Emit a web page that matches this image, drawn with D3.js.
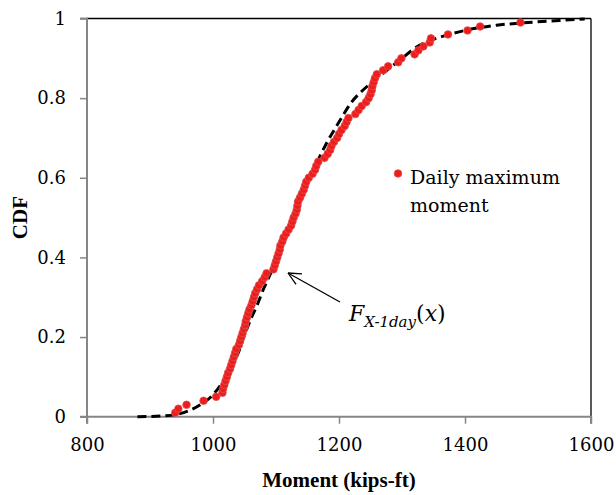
<!DOCTYPE html>
<html><head><meta charset="utf-8">
<script src="https://cdn.jsdelivr.net/npm/d3@7"></script>
</head><body style="margin:0">
<svg id="chart" width="616" height="495"></svg>
<script>
const xTicks = [800, 1000, 1200, 1400, 1600];
const yTicks = [0, 0.2, 0.4, 0.6, 0.8, 1];
const yTickLabels = ["0", "0.2", "0.4", "0.6", "0.8", "1"];
const xTitle = "Moment (kips-ft)";
const yTitle = "CDF";
const legendLines = ["Daily maximum", "moment"];

// Empirical daily maximum moments (kips-ft) and their CDF values
const dailyMoment = [940,945,958,985,1005,1015,1016,1018,1020,1022,1024,1027,1029,1031,1033,1035,1037,1041,1043,1045,
  1047,1049,1051,1052,1054,1056,1058,1061,1063,1065,1067,1070,1073,1078,1082,1085,1096,1098,1100,1102,
  1104,1106,1107,1110,1112,1116,1120,1124,1126,1128,1131,1133,1134,1135,1138,1141,1144,1146,1148,1152,
  1158,1162,1164,1167,1177,1182,1186,1188,1192,1197,1200,1204,1209,1212,1215,1226,1231,1236,1243,1247,
  1250,1252,1253,1255,1257,1260,1270,1278,1294,1299,1320,1326,1334,1344,1346,1373,1404,1424,1488];
const dailyCdf = [0.01,0.02,0.03,0.04,0.05,0.06,0.07,0.08,0.09,0.10,0.11,0.12,0.13,0.14,0.15,0.16,0.17,0.18,0.19,0.20,
  0.21,0.22,0.23,0.24,0.25,0.26,0.27,0.28,0.29,0.30,0.31,0.32,0.33,0.34,0.35,0.36,0.37,0.38,0.39,0.40,
  0.41,0.42,0.43,0.44,0.45,0.46,0.47,0.48,0.49,0.50,0.51,0.52,0.53,0.54,0.55,0.56,0.57,0.58,0.59,0.60,
  0.61,0.62,0.63,0.64,0.65,0.66,0.67,0.68,0.69,0.70,0.71,0.72,0.73,0.74,0.75,0.76,0.77,0.78,0.79,0.80,
  0.81,0.82,0.83,0.84,0.85,0.86,0.87,0.88,0.89,0.90,0.91,0.92,0.93,0.94,0.95,0.96,0.97,0.98,0.99];

// Fitted CDF F_X-1day(x)
const fitMoment = [880,900,920,940,960,980,1000,1010,1020,1030,1040,1050,1060,1070,1080,1090,1100,1110,1120,1130,
  1140,1150,1160,1170,1180,1200,1220,1240,1260,1280,1300,1320,1340,1360,1380,1400,1450,1500,1550,1590];
const fitCdf = [0,0.0005,0.002,0.005,0.014,0.03,0.055,0.075,0.10,0.125,0.16,0.205,0.245,0.28,0.32,0.355,0.395,0.43,0.465,0.505,
  0.545,0.585,0.62,0.655,0.686,0.74,0.79,0.823,0.85,0.875,0.90,0.925,0.942,0.953,0.962,0.97,0.983,0.99,0.995,0.999];

const svg = d3.select("#chart");
const L = 87, R = 591, T = 18.5, B = 416.7;
const x = d3.scaleLinear().domain([800, 1600]).range([L, R]);
const y = d3.scaleLinear().domain([0, 1]).range([B, T]);
const grey = "#868686";
const font = '"DejaVu Serif"';
const boldFont = '"Liberation Serif"';

// plot border top/right (black)
svg.append("line").attr("x1", L).attr("x2", R).attr("y1", T).attr("y2", T).attr("stroke", "#000").attr("stroke-width", 1.3);
svg.append("line").attr("x1", R).attr("x2", R).attr("y1", T).attr("y2", B).attr("stroke", "#000").attr("stroke-width", 1.3);

// axes
const xAxis = d3.axisBottom(x).tickValues(xTicks).tickSize(7).tickPadding(15).tickFormat(d3.format("d"));
const yAxis = d3.axisLeft(y).tickValues(yTicks).tickSize(7).tickPadding(14).tickFormat((d, i) => yTickLabels[i]);
const gx = svg.append("g").attr("transform", `translate(0,${B})`).call(xAxis);
const gy = svg.append("g").attr("transform", `translate(${L},0)`).call(yAxis);
[gx, gy].forEach(g => {
  g.attr("font-family", null).attr("font-size", null);
  g.select(".domain").attr("stroke", grey).attr("stroke-width", 2);
  g.selectAll(".tick line").attr("stroke", grey).attr("stroke-width", 1.5);
  g.selectAll("text").style("font-family", font).style("font-size", "18px").attr("fill", "#000");
});
gy.select(".domain").attr("d", `M-7,${T}H0V${B}H-7`);
gx.select(".domain").attr("d", `M${L},7V0H${R}V7`);

// fitted curve
const line = d3.line().x((d, i) => x(fitMoment[i])).y((d, i) => y(fitCdf[i])).curve(d3.curveMonotoneX);
svg.append("path").datum(fitMoment).attr("d", line).attr("fill", "none")
  .attr("stroke", "#000").attr("stroke-width", 3).attr("stroke-dasharray", "9,5");

// points
svg.append("g").selectAll("circle").data(dailyMoment).join("circle")
  .attr("cx", d => x(d)).attr("cy", (d, i) => y(dailyCdf[i])).attr("r", 3.8)
  .attr("fill", "#f01c1c").attr("stroke", "#d85050").attr("stroke-width", 0.8);

// titles
svg.append("text").attr("x", (L + R) / 2).attr("y", 487).attr("text-anchor", "middle")
  .style("font-family", boldFont).style("font-size", "21px").style("font-weight", "bold").text(xTitle);
svg.append("text").attr("transform", `translate(27,${(T + B) / 2}) rotate(-90)`).attr("text-anchor", "middle")
  .style("font-family", boldFont).style("font-size", "21px").style("font-weight", "bold").text(yTitle);

// legend
svg.append("circle").attr("cx", 398).attr("cy", 173.5).attr("r", 3.8).attr("fill", "#f01c1c").attr("stroke", "#d85050").attr("stroke-width", 0.8);
svg.append("text").style("font-family", font).style("font-size", "19px").attr("x", 410).attr("y", 184).text(legendLines[0]);
svg.append("text").style("font-family", font).style("font-size", "19px").attr("x", 410).attr("y", 212).text(legendLines[1]);

// annotation arrow
const tip = [288, 273], tail = [340, 302];
svg.append("line").attr("x1", tail[0]).attr("y1", tail[1]).attr("x2", tip[0]).attr("y2", tip[1]).attr("stroke", "#000").attr("stroke-width", 1.3);
const ang = Math.atan2(tail[1] - tip[1], tail[0] - tip[0]);
[0.45, -0.45].forEach(a => {
  svg.append("line").attr("x1", tip[0]).attr("y1", tip[1])
    .attr("x2", tip[0] + 14 * Math.cos(ang + a)).attr("y2", tip[1] + 14 * Math.sin(ang + a))
    .attr("stroke", "#000").attr("stroke-width", 1.3);
});
const ann = svg.append("text").attr("x", 349).attr("y", 321).style("font-family", font).style("font-size", "22px");
ann.append("tspan").style("font-style", "italic").text("F");
ann.append("tspan").style("font-style", "italic").style("font-size", "15px").attr("dy", 6).text("X-1day");
ann.append("tspan").attr("dy", -6).text("(");
ann.append("tspan").style("font-style", "italic").text("x");
ann.append("tspan").text(")");
</script>
</body></html>
